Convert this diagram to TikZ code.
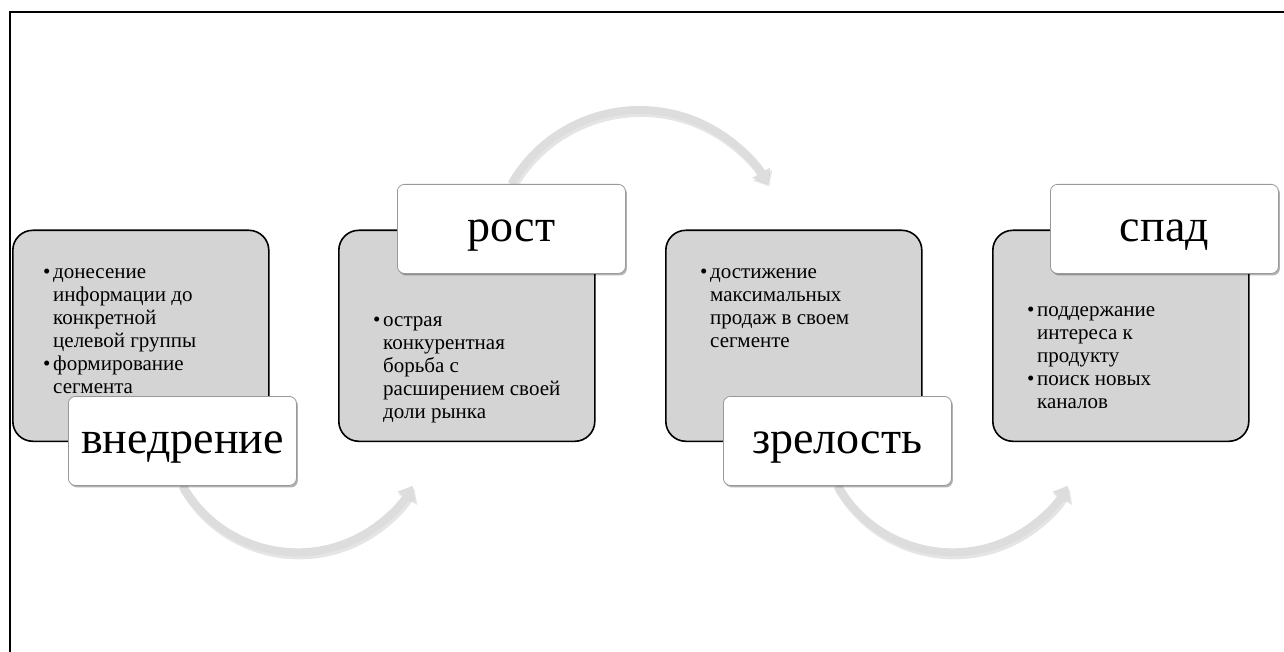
\documentclass[tikz,border=0pt]{standalone}
\usepackage{fontspec}
\setmainfont{Liberation Serif}
\usetikzlibrary{arrows.meta,shadows}
\pgfdeclarelayer{bg}
\pgfsetlayers{bg,main}
\definecolor{boxgray}{HTML}{D4D4D4}
\definecolor{arrowgray}{HTML}{DDDDDD}
\newcommand\bitem[1]{\par\noindent\hangindent=10pt\hangafter=1\makebox[10pt][l]{•}#1}
\newcommand\bodytext[1]{\parbox[t]{230pt}{#1}}
\begin{document}
\begin{tikzpicture}[x=1pt,y=1pt,
  stagebox/.style={draw=black,line width=1.6pt,fill=boxgray,rounded corners=20pt,
    minimum width=256pt,minimum height=211pt,anchor=north west,inner sep=0pt},
  phase/.style={draw=black!40,line width=0.8pt,fill=white,rounded corners=7pt,
    minimum width=228pt,minimum height=89pt,anchor=north west,inner sep=0pt,
    text height=26pt,text depth=0pt,font=\fontsize{46}{50}\selectfont,
    drop shadow={shadow xshift=1.5pt,shadow yshift=-2pt,opacity=0.3,fill=black}},
  body/.style={anchor=base west,inner sep=0pt,font=\fontsize{21}{23}\selectfont},
  flow/.style={line width=8pt,draw=arrowgray,-{Triangle[width=20pt,length=13pt]}},
  flowshadow/.style={line width=9pt,draw=black,opacity=0.10,-{Triangle[width=21pt,length=13pt]}}]
\useasboundingbox (0,0) rectangle (1284,-652);
\draw[line width=2.2pt] (10,-652) -- (10,-12) -- (1284,-12);

\node[stagebox] (s1) at (12,-229.5) {};
\node[stagebox] (s2) at (338,-229.5) {};
\node[stagebox] (s3) at (665,-229.5) {};
\node[stagebox] (s4) at (992,-229.5) {};

\node[body] (t1) at (43,-278) {\bodytext{\bitem{донесение\newline информации до\newline конкретной\newline целевой группы}\bitem{формирование\newline сегмента}}};
\node[body] (t2) at (373,-326) {\bodytext{\bitem{острая\newline конкурентная\newline борьба с\newline расширением своей\newline доли рынка}}};
\node[body] (t3) at (700,-279) {\bodytext{\bitem{достижение\newline максимальных\newline продаж в своем\newline сегменте}}};
\node[body] (t4) at (1027,-316) {\bodytext{\bitem{поддержание\newline интереса к\newline продукту}\bitem{поиск новых\newline каналов}}};

\node[phase] (p1) at (68,-396) {внедрение};
\node[phase] (p2) at (397,-184) {рост};
\node[phase] (p3) at (723,-396) {зрелость};
\node[phase] (p4) at (1050,-184) {спад};

\begin{pgfonlayer}{bg}
\draw[flowshadow] ([shift={(1.5,-2.5)}]p1.south) arc[start angle=210,end angle=330,radius=133];
\draw[flow] (p1.south) arc[start angle=210,end angle=330,radius=133];
\draw[flowshadow] ([shift={(1.5,-2.5)}]p2.north) arc[start angle=150,end angle=30,radius=148];
\draw[flow] (p2.north) arc[start angle=150,end angle=30,radius=148];
\draw[flowshadow] ([shift={(1.5,-2.5)}]p3.south) arc[start angle=210,end angle=330,radius=133];
\draw[flow] (p3.south) arc[start angle=210,end angle=330,radius=133];
\end{pgfonlayer}
\end{tikzpicture}
\end{document}
